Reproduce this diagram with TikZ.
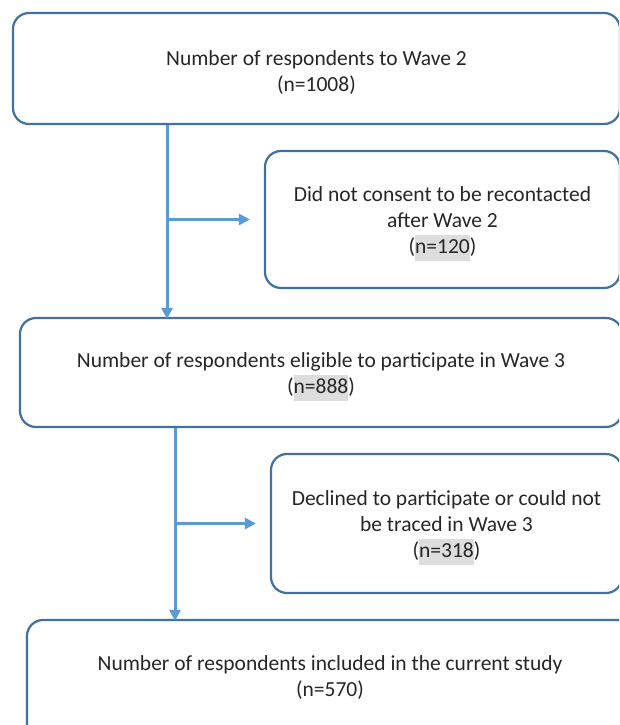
\documentclass[tikz,border=0pt]{standalone}
\usepackage{fontspec}
\setmainfont{Carlito}
\usetikzlibrary{arrows.meta}
\definecolor{boxblue}{HTML}{41719C}
\definecolor{lineblue}{HTML}{5B9BD5}
\definecolor{hl}{HTML}{DDDDDD}
\newcommand{\hlt}[1]{{\setlength{\fboxsep}{0pt}\colorbox{hl}{\strut #1}}}
\begin{document}
\begin{tikzpicture}[x=1pt,y=-1pt,
  txt/.style={align=center, font=\fontsize{21.5}{26}\selectfont, text=black!85, inner sep=0pt},
  box/.style={draw=boxblue, line width=2.2pt, rounded corners=16pt, inner sep=0pt},
  conn/.style={draw=lineblue, line width=3pt, -{Triangle[length=11pt,width=11pt]}}]
\useasboundingbox (0,0) rectangle (619,725);
\begin{scope}
\clip (0,0) rectangle (619,725);
\node[box, minimum width=607pt, minimum height=111pt] (b1) at (316.5,68.5) {};
\node[box, minimum width=355pt, minimum height=137pt] (b2) at (442.5,219.5) {};
\node[box, minimum width=602pt, minimum height=109pt] (b3) at (321,372.5) {};
\node[box, minimum width=351pt, minimum height=139pt] (b4) at (446.5,523.5) {};
\node[box, minimum width=606pt, minimum height=120pt] (b5) at (330,680) {};
\end{scope}
\node[txt] (t1) at ([yshift=-4pt]b1.center) {Number of respondents to Wave 2\\(n=1008)};
\node[txt] (t2) at ([yshift=-4.5pt]b2.center) {Did not consent to be recontacted\\after Wave 2\\(\hlt{n=120})};
\node[txt] (t3) at ([yshift=-4.5pt]b3.center) {Number of respondents eligible to participate in Wave 3\\(\hlt{n=888})};
\node[txt] (t4) at ([yshift=-4pt]b4.center) {Declined to participate or could not\\be traced in Wave 3\\(\hlt{n=318})};
\node[txt] (t5) at (330,678) {Number of respondents included in the current study\\(n=570)};
\coordinate (j1) at (167,219.5);
\coordinate (j2) at (175,523.5);
\draw[conn] (b1.south -| j1) -- ([yshift=-2pt]b3.north -| j1);
\draw[conn, shorten >=14pt] (j1) -- (b2.west);
\draw[conn] (b3.south -| j2) -- ([yshift=-2pt]b5.north -| j2);
\draw[conn, shorten >=14pt] (j2) -- (b4.west);
\end{tikzpicture}
\end{document}
